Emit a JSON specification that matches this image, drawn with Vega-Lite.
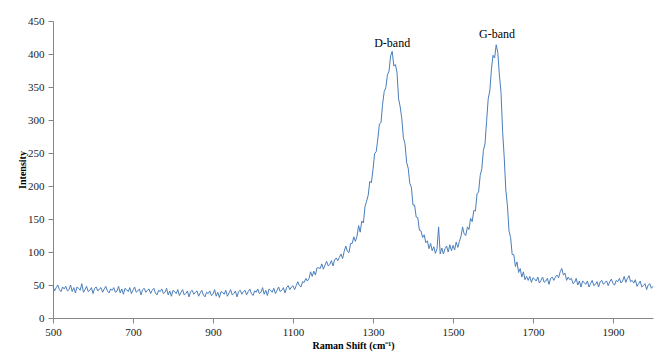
{
  "$schema": "https://vega.github.io/schema/vega-lite/v6.json",
  "width": 600,
  "height": 297,
  "autosize": {"type": "none"},
  "padding": {"left": 53, "top": 21, "right": 12, "bottom": 36},
  "background": "white",
  "config": {
    "view": {"stroke": null},
    "font": "Liberation Serif",
    "axis": {
      "grid": false,
      "domainColor": "#868686",
      "tickColor": "#868686",
      "tickSize": 5,
      "labelFont": "Liberation Serif",
      "labelFontSize": 11,
      "labelColor": "#222222",
      "labelOverlap": false,
      "labelFlush": false,
      "titleFont": "Liberation Serif",
      "titleFontSize": 10,
      "titleFontWeight": "bold",
      "titleColor": "#000000"
    }
  },
  "datasets": {
    "spectrum": [
      {"shift":500,"intensity":48},{"shift":504,"intensity":41},{"shift":508,"intensity":46},{"shift":512,"intensity":50},{"shift":516,"intensity":43},{"shift":520,"intensity":40},{"shift":524,"intensity":47},{"shift":528,"intensity":44},{"shift":532,"intensity":48},{"shift":536,"intensity":41},
      {"shift":540,"intensity":43},{"shift":544,"intensity":50},{"shift":548,"intensity":40},{"shift":552,"intensity":46},{"shift":556,"intensity":38},{"shift":560,"intensity":47},{"shift":564,"intensity":45},{"shift":568,"intensity":42},{"shift":572,"intensity":52},{"shift":576,"intensity":39},
      {"shift":580,"intensity":43},{"shift":584,"intensity":48},{"shift":588,"intensity":40},{"shift":592,"intensity":42},{"shift":596,"intensity":46},{"shift":600,"intensity":37},{"shift":604,"intensity":45},{"shift":608,"intensity":47},{"shift":612,"intensity":41},{"shift":616,"intensity":44},
      {"shift":620,"intensity":46},{"shift":624,"intensity":39},{"shift":628,"intensity":44},{"shift":632,"intensity":48},{"shift":636,"intensity":41},{"shift":640,"intensity":38},{"shift":644,"intensity":44},{"shift":648,"intensity":42},{"shift":652,"intensity":46},{"shift":656,"intensity":39},
      {"shift":660,"intensity":41},{"shift":664,"intensity":48},{"shift":668,"intensity":38},{"shift":672,"intensity":44},{"shift":676,"intensity":36},{"shift":680,"intensity":45},{"shift":684,"intensity":43},{"shift":688,"intensity":40},{"shift":692,"intensity":46},{"shift":696,"intensity":37},
      {"shift":700,"intensity":42},{"shift":704,"intensity":47},{"shift":708,"intensity":39},{"shift":712,"intensity":41},{"shift":716,"intensity":44},{"shift":720,"intensity":35},{"shift":724,"intensity":43},{"shift":728,"intensity":45},{"shift":732,"intensity":39},{"shift":736,"intensity":42},
      {"shift":740,"intensity":44},{"shift":744,"intensity":37},{"shift":748,"intensity":42},{"shift":752,"intensity":45},{"shift":756,"intensity":38},{"shift":760,"intensity":35},{"shift":764,"intensity":42},{"shift":768,"intensity":40},{"shift":772,"intensity":44},{"shift":776,"intensity":37},
      {"shift":780,"intensity":39},{"shift":784,"intensity":45},{"shift":788,"intensity":35},{"shift":792,"intensity":41},{"shift":796,"intensity":33},{"shift":800,"intensity":42},{"shift":804,"intensity":40},{"shift":808,"intensity":37},{"shift":812,"intensity":43},{"shift":816,"intensity":34},
      {"shift":820,"intensity":39},{"shift":824,"intensity":43},{"shift":828,"intensity":35},{"shift":832,"intensity":37},{"shift":836,"intensity":41},{"shift":840,"intensity":32},{"shift":844,"intensity":40},{"shift":848,"intensity":42},{"shift":852,"intensity":36},{"shift":856,"intensity":39},
      {"shift":860,"intensity":41},{"shift":864,"intensity":33},{"shift":868,"intensity":38},{"shift":872,"intensity":42},{"shift":876,"intensity":35},{"shift":880,"intensity":32},{"shift":884,"intensity":39},{"shift":888,"intensity":37},{"shift":892,"intensity":41},{"shift":896,"intensity":34},
      {"shift":900,"intensity":36},{"shift":904,"intensity":43},{"shift":908,"intensity":33},{"shift":912,"intensity":39},{"shift":916,"intensity":31},{"shift":920,"intensity":40},{"shift":924,"intensity":39},{"shift":928,"intensity":36},{"shift":932,"intensity":42},{"shift":936,"intensity":33},
      {"shift":940,"intensity":38},{"shift":944,"intensity":43},{"shift":948,"intensity":35},{"shift":952,"intensity":37},{"shift":956,"intensity":41},{"shift":960,"intensity":32},{"shift":964,"intensity":40},{"shift":968,"intensity":42},{"shift":972,"intensity":36},{"shift":976,"intensity":40},
      {"shift":980,"intensity":42},{"shift":984,"intensity":35},{"shift":988,"intensity":40},{"shift":992,"intensity":44},{"shift":996,"intensity":37},{"shift":1000,"intensity":34},{"shift":1004,"intensity":41},{"shift":1008,"intensity":39},{"shift":1012,"intensity":44},{"shift":1016,"intensity":37},
      {"shift":1020,"intensity":39},{"shift":1024,"intensity":46},{"shift":1028,"intensity":36},{"shift":1032,"intensity":42},{"shift":1036,"intensity":34},{"shift":1040,"intensity":44},{"shift":1044,"intensity":42},{"shift":1048,"intensity":39},{"shift":1052,"intensity":45},{"shift":1056,"intensity":37},
      {"shift":1060,"intensity":42},{"shift":1064,"intensity":47},{"shift":1068,"intensity":40},{"shift":1072,"intensity":42},{"shift":1076,"intensity":46},{"shift":1080,"intensity":38},{"shift":1084,"intensity":46},{"shift":1088,"intensity":49},{"shift":1092,"intensity":43},{"shift":1096,"intensity":47},
      {"shift":1100,"intensity":49},{"shift":1104,"intensity":43},{"shift":1108,"intensity":49},{"shift":1112,"intensity":55},{"shift":1116,"intensity":49},{"shift":1120,"intensity":47},{"shift":1124,"intensity":55},{"shift":1128,"intensity":54},{"shift":1132,"intensity":60},{"shift":1136,"intensity":56},
      {"shift":1140,"intensity":60},{"shift":1144,"intensity":70},{"shift":1148,"intensity":63},{"shift":1152,"intensity":71},{"shift":1156,"intensity":65},{"shift":1160,"intensity":76},{"shift":1164,"intensity":76},{"shift":1168,"intensity":75},{"shift":1172,"intensity":82},{"shift":1176,"intensity":74},
      {"shift":1180,"intensity":80},{"shift":1184,"intensity":86},{"shift":1188,"intensity":79},{"shift":1192,"intensity":81},{"shift":1196,"intensity":87},{"shift":1200,"intensity":79},{"shift":1204,"intensity":88},{"shift":1208,"intensity":91},{"shift":1212,"intensity":87},{"shift":1216,"intensity":92},
      {"shift":1220,"intensity":97},{"shift":1224,"intensity":90},{"shift":1228,"intensity":101},{"shift":1232,"intensity":109},{"shift":1236,"intensity":101},{"shift":1240,"intensity":99},{"shift":1244,"intensity":113},{"shift":1248,"intensity":113},{"shift":1252,"intensity":123},{"shift":1256,"intensity":116},
      {"shift":1260,"intensity":124},{"shift":1264,"intensity":140},{"shift":1268,"intensity":130},{"shift":1272,"intensity":147},{"shift":1276,"intensity":144},{"shift":1280,"intensity":169},{"shift":1284,"intensity":177},{"shift":1288,"intensity":186},{"shift":1292,"intensity":207},{"shift":1296,"intensity":205},
      {"shift":1300,"intensity":225},{"shift":1304,"intensity":249},{"shift":1308,"intensity":252},{"shift":1312,"intensity":271},{"shift":1316,"intensity":294},{"shift":1320,"intensity":296},{"shift":1324,"intensity":324},{"shift":1328,"intensity":343},{"shift":1332,"intensity":349},{"shift":1336,"intensity":368},
      {"shift":1340,"intensity":374},{"shift":1344,"intensity":397},{"shift":1348,"intensity":404},{"shift":1352,"intensity":382},{"shift":1356,"intensity":384},{"shift":1360,"intensity":372},{"shift":1364,"intensity":332},{"shift":1368,"intensity":320},{"shift":1372,"intensity":302},{"shift":1376,"intensity":273},
      {"shift":1380,"intensity":264},{"shift":1384,"intensity":236},{"shift":1388,"intensity":227},{"shift":1392,"intensity":204},{"shift":1396,"intensity":198},{"shift":1400,"intensity":171},{"shift":1404,"intensity":171},{"shift":1408,"intensity":153},{"shift":1412,"intensity":152},{"shift":1416,"intensity":133},
      {"shift":1420,"intensity":132},{"shift":1424,"intensity":122},{"shift":1428,"intensity":126},{"shift":1432,"intensity":114},{"shift":1436,"intensity":117},{"shift":1440,"intensity":105},{"shift":1444,"intensity":113},{"shift":1448,"intensity":102},{"shift":1452,"intensity":108},{"shift":1456,"intensity":98},
      {"shift":1460,"intensity":105},{"shift":1464,"intensity":138},{"shift":1468,"intensity":97},{"shift":1472,"intensity":106},{"shift":1476,"intensity":97},{"shift":1480,"intensity":105},{"shift":1484,"intensity":109},{"shift":1488,"intensity":100},{"shift":1492,"intensity":111},{"shift":1496,"intensity":102},
      {"shift":1500,"intensity":110},{"shift":1504,"intensity":103},{"shift":1508,"intensity":115},{"shift":1512,"intensity":107},{"shift":1516,"intensity":116},{"shift":1520,"intensity":124},{"shift":1524,"intensity":138},{"shift":1528,"intensity":127},{"shift":1532,"intensity":125},{"shift":1536,"intensity":138},
      {"shift":1540,"intensity":134},{"shift":1544,"intensity":151},{"shift":1548,"intensity":146},{"shift":1552,"intensity":163},{"shift":1556,"intensity":162},{"shift":1560,"intensity":188},{"shift":1564,"intensity":191},{"shift":1568,"intensity":216},{"shift":1572,"intensity":226},{"shift":1576,"intensity":254},
      {"shift":1580,"intensity":264},{"shift":1584,"intensity":298},{"shift":1588,"intensity":332},{"shift":1592,"intensity":344},{"shift":1596,"intensity":376},{"shift":1600,"intensity":398},{"shift":1604,"intensity":394},{"shift":1608,"intensity":414},{"shift":1612,"intensity":402},{"shift":1616,"intensity":368},
      {"shift":1620,"intensity":342},{"shift":1624,"intensity":283},{"shift":1628,"intensity":244},{"shift":1632,"intensity":194},{"shift":1636,"intensity":171},{"shift":1640,"intensity":132},{"shift":1644,"intensity":122},{"shift":1648,"intensity":96},{"shift":1652,"intensity":96},{"shift":1656,"intensity":78},
      {"shift":1660,"intensity":85},{"shift":1664,"intensity":69},{"shift":1668,"intensity":75},{"shift":1672,"intensity":62},{"shift":1676,"intensity":70},{"shift":1680,"intensity":58},{"shift":1684,"intensity":63},{"shift":1688,"intensity":57},{"shift":1692,"intensity":63},{"shift":1696,"intensity":54},
      {"shift":1700,"intensity":61},{"shift":1704,"intensity":59},{"shift":1708,"intensity":56},{"shift":1712,"intensity":62},{"shift":1716,"intensity":53},{"shift":1720,"intensity":57},{"shift":1724,"intensity":62},{"shift":1728,"intensity":54},{"shift":1732,"intensity":56},{"shift":1736,"intensity":60},
      {"shift":1740,"intensity":51},{"shift":1744,"intensity":60},{"shift":1748,"intensity":62},{"shift":1752,"intensity":57},{"shift":1756,"intensity":62},{"shift":1760,"intensity":65},{"shift":1764,"intensity":61},{"shift":1768,"intensity":70},{"shift":1772,"intensity":75},{"shift":1776,"intensity":65},
      {"shift":1780,"intensity":68},{"shift":1784,"intensity":57},{"shift":1788,"intensity":62},{"shift":1792,"intensity":58},{"shift":1796,"intensity":60},{"shift":1800,"intensity":52},{"shift":1804,"intensity":54},{"shift":1808,"intensity":60},{"shift":1812,"intensity":50},{"shift":1816,"intensity":56},
      {"shift":1820,"intensity":47},{"shift":1824,"intensity":56},{"shift":1828,"intensity":54},{"shift":1832,"intensity":51},{"shift":1836,"intensity":56},{"shift":1840,"intensity":47},{"shift":1844,"intensity":52},{"shift":1848,"intensity":57},{"shift":1852,"intensity":49},{"shift":1856,"intensity":51},
      {"shift":1860,"intensity":55},{"shift":1864,"intensity":47},{"shift":1868,"intensity":55},{"shift":1872,"intensity":57},{"shift":1876,"intensity":51},{"shift":1880,"intensity":54},{"shift":1884,"intensity":56},{"shift":1888,"intensity":49},{"shift":1892,"intensity":55},{"shift":1896,"intensity":59},
      {"shift":1900,"intensity":52},{"shift":1904,"intensity":50},{"shift":1908,"intensity":57},{"shift":1912,"intensity":55},{"shift":1916,"intensity":60},{"shift":1920,"intensity":53},{"shift":1924,"intensity":56},{"shift":1928,"intensity":63},{"shift":1932,"intensity":54},{"shift":1936,"intensity":60},
      {"shift":1940,"intensity":64},{"shift":1944,"intensity":55},{"shift":1948,"intensity":57},{"shift":1952,"intensity":53},{"shift":1956,"intensity":58},{"shift":1960,"intensity":48},{"shift":1964,"intensity":52},{"shift":1968,"intensity":56},{"shift":1972,"intensity":47},{"shift":1976,"intensity":49},
      {"shift":1980,"intensity":52},{"shift":1984,"intensity":43},{"shift":1988,"intensity":50},{"shift":1992,"intensity":52},{"shift":1996,"intensity":45},{"shift":2000,"intensity":48}
    ],
    "labels": [
      {"shift": 1348, "intensity": 416, "label": "D-band"},
      {"shift": 1610, "intensity": 430, "label": "G-band"}
    ]
  },
  "encoding": {
    "x": {
      "field": "shift",
      "type": "quantitative",
      "scale": {"domain": [500, 2000], "nice": false, "zero": false},
      "axis": {
        "title": "Raman Shift (cm⁻¹)",
        "values": [500, 700, 900, 1100, 1300, 1500, 1700, 1900],
        "format": "d",
        "labelOverlap": false,
        "labelPadding": 3,
        "titlePadding": 3
      }
    },
    "y": {
      "field": "intensity",
      "type": "quantitative",
      "scale": {"domain": [0, 450], "nice": false},
      "axis": {
        "title": "Intensity",
        "values": [0, 50, 100, 150, 200, 250, 300, 350, 400, 450],
        "format": "d",
        "labelOverlap": false,
        "labelPadding": 4,
        "titlePadding": 0
      }
    }
  },
  "layer": [
    {
      "data": {"name": "spectrum"},
      "mark": {"type": "line", "color": "#4A7EBB", "strokeWidth": 1, "interpolate": "linear"}
    },
    {
      "data": {"name": "labels"},
      "mark": {"type": "text", "font": "Liberation Serif", "fontSize": 12, "color": "#000000", "baseline": "middle", "align": "center"},
      "encoding": {
        "text": {"field": "label"}
      }
    }
  ]
}
